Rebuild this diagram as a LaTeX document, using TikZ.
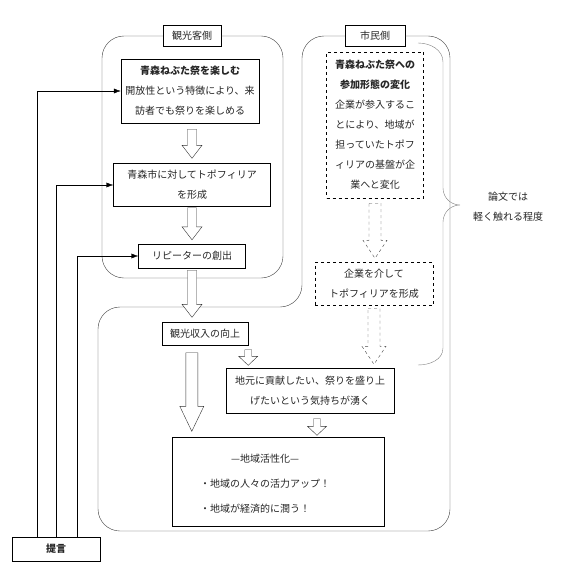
\documentclass[tikz,border=0pt]{standalone}
\usepackage{fontspec}
\setmainfont{Noto Sans CJK JP}
\usetikzlibrary{arrows.meta,calc}

% hollow block arrow: [style]{start}{end}{shaft half width}{head half width}{head length}
\newcommand{\hollowarrow}[6][]{%
  \draw[harrow,#1] let \p1=#2, \p2=#3 in
    (\x1-#4,\y1) -- (\x1+#4,\y1) -- (\x1+#4,\y2+#6) -- (\x1+#5,\y2+#6)
    -- (\x1,\y2) -- (\x1-#5,\y2+#6) -- (\x1-#4,\y2+#6) -- cycle;}

\begin{document}
\begin{tikzpicture}[
    x=1pt, y=-1pt,
    font=\fontsize{10}{20}\selectfont,
    box/.style={draw, align=center, inner sep=0pt, text=black!85, fill=white},
    dbox/.style={box, dashed},
    tag/.style={draw, fill=white, inner sep=0pt, minimum height=21pt, text=black!85},
    region/.style={draw=black!75, rounded corners=22pt},
    feed/.style={-{Latex[length=7pt,width=5pt]}},
    harrow/.style={draw=black!80, fill=white},
    dharrow/.style={harrow, dashed, draw=black!70}
  ]
    \path[use as bounding box, fill=white] (0,0) rectangle (561,567);

    % side labels
    \node[tag, minimum width=58pt] (tourist) at (192,36) {観光客側};
    \node[tag, minimum width=60pt] (citizen) at (375,36) {市民側};

    % outlines
    \draw[region] (tourist.west) -- (102,36) -- (102,278) -- (283,278) -- (283,36) -- (tourist.east);
    \draw[region] (citizen.west) -- (302,36) -- (302,307) -- (98,307) -- (98,531)
      -- (450,531) -- (450,36) -- (citizen.east);

    % tourist side
    \node[box, minimum width=138pt, minimum height=64pt] (enjoy) at (190,91)
      {\textbf{青森ねぶた祭を楽しむ}\\開放性という特徴により、来\\訪者でも祭りを楽しめる};
    \node[box, minimum width=157pt, minimum height=43pt] (topo) at (192,185)
      {青森市に対してトポフィリア\\を形成};
    \node[box, minimum width=107pt, minimum height=24pt] (repeater) at (192,256) {リピーターの創出};

    % citizen side
    \node[dbox, minimum width=97pt, minimum height=146pt] (join) at (375,125)
      {\textbf{青森ねぶた祭への}\\\textbf{参加形態の変化}\\企業が参入するこ\\とにより、地域が\\担っていたトポフ\\ィリアの基盤が企\\業へと変化};
    \node[dbox, minimum width=118pt, minimum height=43pt] (firm) at (374,284)
      {企業を介して\\トポフィリアを形成};

    % common part
    \node[box, minimum width=86pt, minimum height=23pt] (income) at (205,334) {観光収入の向上};
    \node[box, minimum width=168pt, minimum height=45pt] (local) at (310,391)
      {地元に貢献したい、祭りを盛り上\\げたいという気持ちが湧く};
    \node[box, minimum width=212pt, minimum height=89pt, font=\fontsize{10}{25}\selectfont] (revive) at (278,482)
      {\begin{tabular}{@{}c@{}}—地域活性化—\\\makebox[130pt][l]{・地域の人々の活力アップ！}\\\makebox[130pt][l]{・地域が経済的に潤う！}\end{tabular}\hspace*{26pt}};

    \node[box, minimum width=88pt, minimum height=24pt] (teigen) at (56,549) {\textbf{提言}};
    \node[align=center, text=black!85] (note) at (508,207) {論文では\\軽く触れる程度};

    % block arrows
    \hollowarrow{($(enjoy.south -| topo.north)+(0,6)$)}{($(topo.north)+(0,-5)$)}{4.5pt}{10pt}{13pt}
    \hollowarrow{($(topo.south)+(0,1)$)}{($(repeater.north)+(0,-4)$)}{4.5pt}{10pt}{13pt}
    \hollowarrow{($(repeater.south)+(0,2)$)}{($(income.north)+(0,-5)$)}{4.5pt}{10pt}{13pt}
    \hollowarrow{($(income.south east)+(0,4)$)}{($(local.north)+(0,-3)$)}{3.5pt}{9.5pt}{9pt}
    \hollowarrow{($(income.south west)+(30,7)$)}{($(revive.north)+(0,-6)$)}{6pt}{12pt}{25pt}
    \hollowarrow{($(local.south)+(7,5)$)}{($(revive.north)+(0,-2)$)}{3.5pt}{9.5pt}{9pt}
    \hollowarrow[dharrow]{($(join.south)+(0,5)$)}{($(firm.north)+(0,-4)$)}{6pt}{12pt}{18pt}
    \hollowarrow[dharrow]{($(firm.south)+(0,3)$)}{($(local.north)+(0,-4)$)}{6pt}{12pt}{18pt}

    % brace
    \draw[black!50] (418,43) to[out=0,in=90] (443,62) -- (443,188) to[out=-90,in=180] (460,205)
      to[out=180,in=90] (443,222) -- (443,348) to[out=-90,in=0] (418,365);

    % feedback lines
    \draw[feed] ([xshift=-19pt]teigen.north) |- (enjoy.west);
    \draw[feed] (teigen.north) |- (topo.west);
    \draw[feed] ([xshift=21pt]teigen.north) |- (repeater.west);
\end{tikzpicture}
\end{document}
